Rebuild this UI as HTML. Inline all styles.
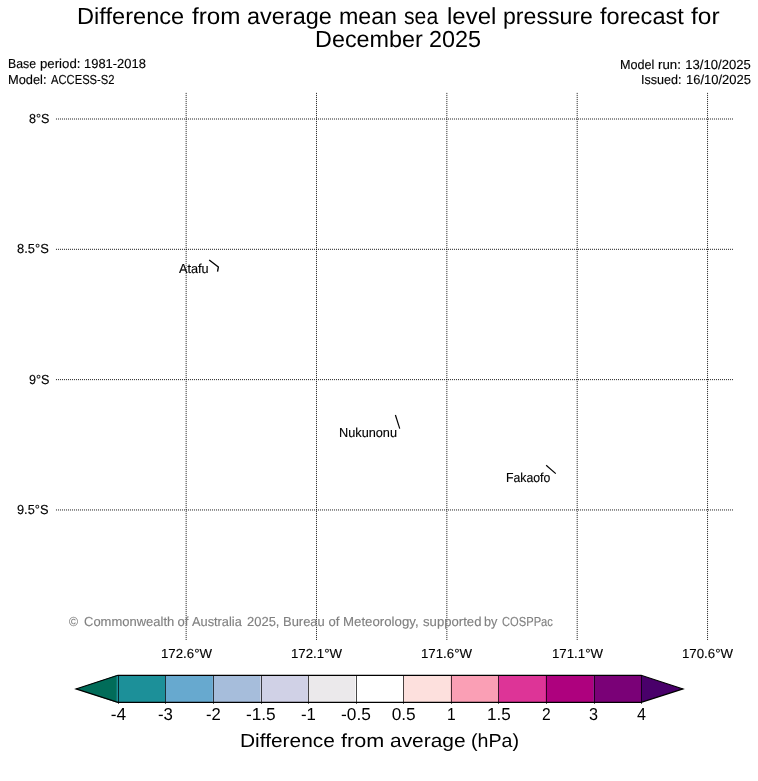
<!DOCTYPE html>
<html><head><meta charset="utf-8"><title>Difference from average mean sea level pressure forecast</title>
<style>
html,body{margin:0;padding:0;background:#fff;}
body{width:758px;height:781px;position:relative;overflow:hidden;font-family:"Liberation Sans", sans-serif;}
#plot{position:absolute;left:0;top:0;}
#labels{position:absolute;left:0;top:0;width:758px;height:781px;will-change:transform;filter:grayscale(1);}
.s{-webkit-text-stroke:0.14px currentColor;}
.t{position:absolute;white-space:nowrap;line-height:0;transform-origin:0 0;font-family:"Liberation Sans", sans-serif;text-rendering:geometricPrecision;}
</style></head><body>
<svg id="plot" width="758" height="781" viewBox="0 0 758 781">
<g stroke="#000" stroke-width="0.9" stroke-dasharray="1 1" fill="none">
<line x1="186.15" y1="92.9" x2="186.15" y2="640.0"/>
<line x1="316.50" y1="92.9" x2="316.50" y2="640.0"/>
<line x1="446.85" y1="92.9" x2="446.85" y2="640.0"/>
<line x1="577.20" y1="92.9" x2="577.20" y2="640.0"/>
<line x1="707.55" y1="92.9" x2="707.55" y2="640.0"/>
<line x1="55.97" y1="119.00" x2="733.0" y2="119.00"/>
<line x1="55.97" y1="249.32" x2="733.0" y2="249.32"/>
<line x1="55.97" y1="379.64" x2="733.0" y2="379.64"/>
<line x1="55.97" y1="509.96" x2="733.0" y2="509.96"/>
</g>
<g stroke="#000" fill="none" stroke-linejoin="miter">
<polyline stroke-width="1.35" points="209.2,260.05 218.35,267.05 217.55,271.7"/>
<polyline stroke-width="1.2" points="395.4,414.95 399.75,428.65"/>
<polyline stroke-width="1.2" points="546.15,465.3 555.75,473.65"/>
</g>
<rect x="116.60" y="675.3" width="48.87" height="27.10" fill="#1c9099"/>
<rect x="115.90" y="676.00" width="1" height="25.70" fill="#1c9099"/>
<rect x="165.17" y="675.3" width="47.87" height="27.10" fill="#67a9cf"/>
<rect x="212.74" y="675.3" width="47.87" height="27.10" fill="#a6bddb"/>
<rect x="260.31" y="675.3" width="47.87" height="27.10" fill="#d0d1e6"/>
<rect x="307.88" y="675.3" width="47.87" height="27.10" fill="#ebe9eb"/>
<rect x="355.45" y="675.3" width="47.87" height="27.10" fill="#ffffff"/>
<rect x="403.02" y="675.3" width="47.87" height="27.10" fill="#fde0dd"/>
<rect x="450.59" y="675.3" width="47.87" height="27.10" fill="#fa9fb5"/>
<rect x="498.16" y="675.3" width="47.87" height="27.10" fill="#dd3497"/>
<rect x="545.73" y="675.3" width="47.87" height="27.10" fill="#ae017e"/>
<rect x="593.30" y="675.3" width="47.87" height="27.10" fill="#7a0177"/>
<polygon points="116.60,675.3 76.0,688.9 116.60,702.4" fill="#016c59"/>
<polygon points="640.87,675.3 683.0,688.9 640.87,702.4" fill="#49006a"/>
<g fill="#000" fill-opacity="0.72">
<rect x="118" y="675.3" width="1" height="28.60"/>
<rect x="165" y="675.3" width="1" height="28.60"/>
<rect x="213" y="675.3" width="1" height="28.60"/>
<rect x="261" y="675.3" width="1" height="28.60"/>
<rect x="308" y="675.3" width="1" height="28.60"/>
<rect x="356" y="675.3" width="1" height="28.60"/>
<rect x="403" y="675.3" width="1" height="28.60"/>
<rect x="451" y="675.3" width="1" height="28.60"/>
<rect x="498" y="675.3" width="1" height="28.60"/>
<rect x="546" y="675.3" width="1" height="28.60"/>
<rect x="594" y="675.3" width="1" height="28.60"/>
<rect x="641" y="675.3" width="1" height="28.60"/>
</g>
<polygon points="117.90,675.3 641.17,675.3 683.0,688.9 641.17,702.4 117.90,702.4 76.0,688.9" fill="none" stroke="#000" stroke-width="1.15" stroke-linejoin="miter"/>
</svg>
<div id="labels">
<span class="t" style="left:76.95px;top:16px;font-size:23.25px;transform:scaleX(1.0161);color:#000">Difference</span>
<span class="t" style="left:191.75px;top:16px;font-size:23.25px;transform:scaleX(1.0425);color:#000">from</span>
<span class="t" style="left:246.80px;top:16px;font-size:23.25px;transform:scaleX(1.0098);color:#000">average</span>
<span class="t" style="left:338.90px;top:16px;font-size:23.25px;transform:scaleX(1.0000);color:#000">mean</span>
<span class="t" style="left:404.15px;top:16px;font-size:23.25px;transform:scaleX(0.9116);color:#000">sea</span>
<span class="t" style="left:446.65px;top:16px;font-size:23.25px;transform:scaleX(1.0324);color:#000">level</span>
<span class="t" style="left:503.10px;top:16px;font-size:23.25px;transform:scaleX(0.9932);color:#000">pressure</span>
<span class="t" style="left:599.95px;top:16px;font-size:23.25px;transform:scaleX(1.0140);color:#000">forecast</span>
<span class="t" style="left:690.75px;top:16px;font-size:23.25px;transform:scaleX(1.0528);color:#000">for</span>
<span class="t" style="left:314.90px;top:39px;font-size:23.25px;transform:scaleX(1.0062);color:#000">December</span>
<span class="t" style="left:429.05px;top:39px;font-size:23.25px;transform:scaleX(1.0081);color:#000">2025</span>
<span class="t s" style="left:7.75px;top:64px;font-size:13.08px;transform:scaleX(0.9398);color:#000">Base</span>
<span class="t s" style="left:39.80px;top:64px;font-size:13.08px;transform:scaleX(1.0105);color:#000">period:</span>
<span class="t s" style="left:84.30px;top:64px;font-size:13.08px;transform:scaleX(0.9885);color:#000">1981-2018</span>
<span class="t s" style="left:7.75px;top:80px;font-size:13.08px;transform:scaleX(0.9812);color:#000">Model:</span>
<span class="t s" style="left:50.50px;top:80px;font-size:13.08px;transform:scaleX(0.8571);color:#000">ACCESS-S2</span>
<span class="t s" style="left:619.85px;top:65px;font-size:13.08px;transform:scaleX(0.9644);color:#000">Model</span>
<span class="t s" style="left:658.25px;top:65px;font-size:13.08px;transform:scaleX(1.0120);color:#000">run:</span>
<span class="t s" style="left:685.30px;top:65px;font-size:13.08px;transform:scaleX(1.0000);color:#000">13/10/2025</span>
<span class="t s" style="left:641.00px;top:80px;font-size:13.08px;transform:scaleX(0.9613);color:#000">Issued:</span>
<span class="t s" style="left:686.00px;top:80px;font-size:13.08px;transform:scaleX(0.9922);color:#000">16/10/2025</span>
<span class="t s" style="left:29.10px;top:119px;font-size:13.08px;transform:scaleX(0.9630);color:#000">8°S</span>
<span class="t s" style="left:17.00px;top:249px;font-size:13.08px;transform:scaleX(0.9888);color:#000">8.5°S</span>
<span class="t s" style="left:29.10px;top:380px;font-size:13.08px;transform:scaleX(0.9655);color:#000">9°S</span>
<span class="t s" style="left:17.10px;top:510px;font-size:13.08px;transform:scaleX(0.9792);color:#000">9.5°S</span>
<span class="t s" style="left:160.70px;top:654px;font-size:13.08px;transform:scaleX(1.0132);color:#000">172.6°W</span>
<span class="t s" style="left:290.97px;top:654px;font-size:13.08px;transform:scaleX(1.0132);color:#000">172.1°W</span>
<span class="t s" style="left:421.24px;top:654px;font-size:13.08px;transform:scaleX(1.0132);color:#000">171.6°W</span>
<span class="t s" style="left:551.51px;top:654px;font-size:13.08px;transform:scaleX(1.0132);color:#000">171.1°W</span>
<span class="t s" style="left:681.78px;top:654px;font-size:13.08px;transform:scaleX(1.0132);color:#000">170.6°W</span>
<span class="t s" style="left:179.30px;top:269px;font-size:13.08px;transform:scaleX(0.9714);color:#000">Atafu</span>
<span class="t s" style="left:338.80px;top:433px;font-size:13.08px;transform:scaleX(0.9732);color:#000">Nukunonu</span>
<span class="t s" style="left:505.90px;top:478px;font-size:13.08px;transform:scaleX(0.9377);color:#000">Fakaofo</span>
<span class="t s" style="left:69.15px;top:622px;font-size:13.08px;transform:scaleX(0.9368);color:#808080">©</span>
<span class="t s" style="left:83.50px;top:622px;font-size:13.08px;transform:scaleX(0.9933);color:#808080">Commonwealth</span>
<span class="t s" style="left:177.40px;top:622px;font-size:13.08px;transform:scaleX(1.0000);color:#808080">of</span>
<span class="t s" style="left:192.10px;top:622px;font-size:13.08px;transform:scaleX(0.9784);color:#808080">Australia</span>
<span class="t s" style="left:247.00px;top:622px;font-size:13.08px;transform:scaleX(0.9920);color:#808080">2025,</span>
<span class="t s" style="left:283.00px;top:622px;font-size:13.08px;transform:scaleX(0.9901);color:#808080">Bureau</span>
<span class="t s" style="left:328.50px;top:622px;font-size:13.08px;transform:scaleX(1.0000);color:#808080">of</span>
<span class="t s" style="left:343.30px;top:622px;font-size:13.08px;transform:scaleX(1.0131);color:#808080">Meteorology,</span>
<span class="t s" style="left:422.55px;top:622px;font-size:13.08px;transform:scaleX(1.0052);color:#808080">supported</span>
<span class="t s" style="left:484.25px;top:622px;font-size:13.08px;transform:scaleX(0.9695);color:#808080">by</span>
<span class="t s" style="left:502.40px;top:622px;font-size:13.08px;transform:scaleX(0.8536);color:#808080">COSPPac</span>
<span class="t" style="left:110.73px;top:714px;font-size:17.3px;transform:scaleX(1.0000);color:#000">-4</span>
<span class="t" style="left:158.28px;top:714px;font-size:17.3px;transform:scaleX(0.9720);color:#000">-3</span>
<span class="t" style="left:205.83px;top:714px;font-size:17.3px;transform:scaleX(0.9632);color:#000">-2</span>
<span class="t" style="left:245.94px;top:714px;font-size:17.3px;transform:scaleX(1.0000);color:#000">-1.5</span>
<span class="t" style="left:300.93px;top:714px;font-size:17.3px;transform:scaleX(0.9717);color:#000">-1</span>
<span class="t" style="left:341.04px;top:714px;font-size:17.3px;transform:scaleX(1.0000);color:#000">-0.5</span>
<span class="t" style="left:391.67px;top:714px;font-size:17.3px;transform:scaleX(1.0000);color:#000">0.5</span>
<span class="t" style="left:446.85px;top:714px;font-size:17.3px;transform:scaleX(0.9038);color:#000">1</span>
<span class="t" style="left:486.95px;top:714px;font-size:17.3px;transform:scaleX(0.9881);color:#000">1.5</span>
<span class="t" style="left:541.88px;top:714px;font-size:17.3px;transform:scaleX(0.9038);color:#000">2</span>
<span class="t" style="left:589.47px;top:714px;font-size:17.3px;transform:scaleX(0.9370);color:#000">3</span>
<span class="t" style="left:637.09px;top:714px;font-size:17.3px;transform:scaleX(0.9308);color:#000">4</span>
<span class="t" style="left:239.95px;top:742px;font-size:18.9px;transform:scaleX(1.1054);color:#000">Difference</span>
<span class="t" style="left:341.35px;top:742px;font-size:18.9px;transform:scaleX(1.1435);color:#000">from</span>
<span class="t" style="left:389.90px;top:742px;font-size:18.9px;transform:scaleX(1.1071);color:#000">average</span>
<span class="t" style="left:471.05px;top:742px;font-size:18.9px;transform:scaleX(1.0389);color:#000">(hPa)</span>
</div>
</body></html>
